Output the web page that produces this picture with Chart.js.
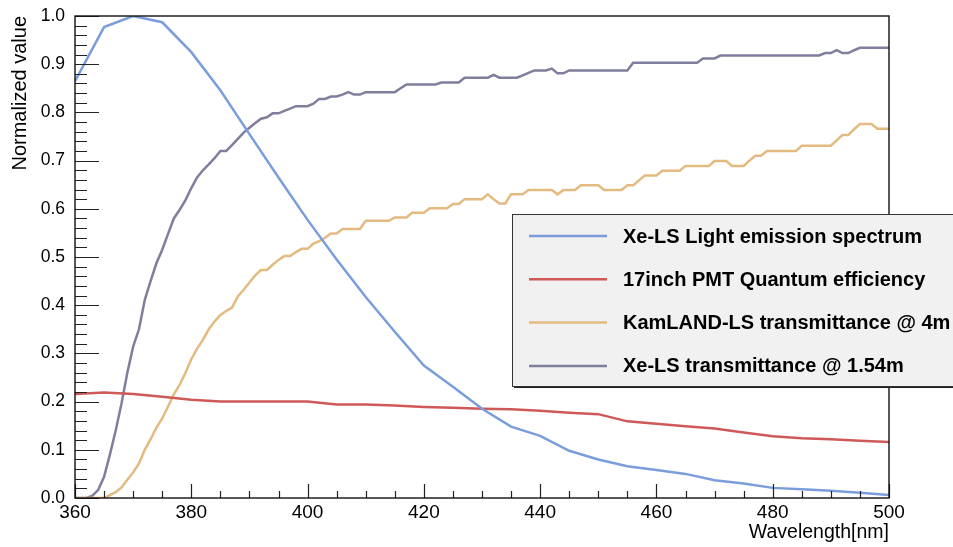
<!DOCTYPE html>
<html>
<head>
<meta charset="utf-8">
<script src="https://cdn.jsdelivr.net/npm/chart.js@4.4.1/dist/chart.umd.min.js"></script>
<style>
  html, body { margin: 0; padding: 0; background: #fff; }
</style>
</head>
<body>
<canvas id="spectra" width="953" height="547"></canvas>
<script>
// wavelength grid (nm) for the emission spectrum and PMT QE
const wl5 = [360, 365, 370, 375, 380, 385, 390, 395, 400, 405, 410, 415, 420, 425, 430,
             435, 440, 445, 450, 455, 460, 465, 470, 475, 480, 485, 490, 495, 500];
const emission = [0.865, 0.977, 1.0, 0.987, 0.925, 0.846, 0.755, 0.665, 0.577, 0.495, 0.417, 0.345, 0.275, 0.231, 0.185,
                  0.148, 0.129, 0.098, 0.080, 0.066, 0.058, 0.050, 0.037, 0.030, 0.021, 0.018, 0.015, 0.011, 0.006];
const pmtQE = [0.216, 0.219, 0.216, 0.210, 0.204, 0.200, 0.200, 0.200, 0.200, 0.194, 0.194, 0.192, 0.189, 0.187, 0.185,
               0.184, 0.181, 0.177, 0.174, 0.159, 0.154, 0.149, 0.144, 0.136, 0.128, 0.124, 0.122, 0.119, 0.116];

// KamLAND-LS transmittance @ 4m
const kamlandWl = [360, 365, 366, 367, 368, 369, 370, 371, 372, 373, 374, 375, 376, 377, 378, 379, 380, 381, 382, 383,
                   384, 385, 386, 387, 388, 389, 390, 391, 392, 393, 394, 395, 396, 397, 398, 399, 400, 401, 402, 403,
                   404, 405, 406, 409, 410, 414, 415, 417, 418, 420, 421, 424, 425, 426, 427, 430, 431, 432, 433, 434,
                   435, 437, 438, 442, 443, 444, 446, 447, 450, 451, 454, 455, 456, 457, 458, 460, 461, 464, 465, 469,
                   470, 472, 473, 475, 476, 477, 478, 479, 484, 485, 490, 491, 492, 493, 494, 495, 497, 498, 500];
const kamlandT = [0.0, 0.0, 0.006, 0.012, 0.022, 0.038, 0.053, 0.072, 0.100, 0.122, 0.146, 0.165, 0.190, 0.215, 0.235, 0.260, 0.288, 0.310, 0.328, 0.350,
                  0.366, 0.380, 0.388, 0.395, 0.418, 0.432, 0.447, 0.462, 0.473, 0.473, 0.484, 0.494, 0.502, 0.502, 0.510, 0.517, 0.517, 0.528, 0.533, 0.540,
                  0.549, 0.549, 0.558, 0.558, 0.575, 0.575, 0.582, 0.582, 0.592, 0.592, 0.601, 0.601, 0.610, 0.610, 0.620, 0.620, 0.630, 0.620, 0.611, 0.611,
                  0.630, 0.630, 0.639, 0.639, 0.630, 0.639, 0.639, 0.649, 0.649, 0.639, 0.639, 0.649, 0.649, 0.659, 0.669, 0.669, 0.679, 0.679, 0.689, 0.689,
                  0.699, 0.699, 0.689, 0.689, 0.700, 0.710, 0.710, 0.720, 0.720, 0.731, 0.731, 0.742, 0.753, 0.753, 0.765, 0.776, 0.776, 0.766, 0.766];

// Xe-LS transmittance @ 1.54m
const xelsWl = [360, 362, 363, 364, 365, 366, 367, 368, 369, 370, 371, 372, 373, 374, 375, 376, 377, 378, 379, 380,
                381, 382, 383, 384, 385, 386, 387, 388, 389, 390, 391, 392, 393, 394, 395, 396, 397, 398, 400, 401,
                402, 403, 404, 405, 406, 407, 408, 409, 410, 415, 416, 417, 422, 423, 426, 427, 431, 432, 433, 436,
                437, 438, 439, 441, 442, 443, 444, 445, 455, 456, 467, 468, 470, 471, 488, 489, 490, 491, 492, 493,
                494, 495, 500];
const xelsT = [0.0, 0.0, 0.005, 0.017, 0.044, 0.090, 0.140, 0.196, 0.260, 0.314, 0.350, 0.411, 0.450, 0.487, 0.515, 0.548, 0.580, 0.598, 0.618, 0.643,
               0.665, 0.680, 0.692, 0.705, 0.720, 0.720, 0.732, 0.745, 0.758, 0.768, 0.778, 0.787, 0.790, 0.798, 0.798, 0.803, 0.808, 0.813, 0.813, 0.818,
               0.828, 0.828, 0.833, 0.833, 0.837, 0.842, 0.837, 0.837, 0.842, 0.842, 0.850, 0.858, 0.858, 0.862, 0.862, 0.872, 0.872, 0.878, 0.872, 0.872,
               0.877, 0.882, 0.887, 0.887, 0.891, 0.881, 0.881, 0.887, 0.887, 0.903, 0.903, 0.912, 0.912, 0.918, 0.918, 0.923, 0.923, 0.929, 0.923, 0.923,
               0.929, 0.934, 0.934];

const seriesNames = ['Xe-LS Light emission spectrum', '17inch PMT Quantum efficiency',
                     'KamLAND-LS transmittance @ 4m', 'Xe-LS transmittance @ 1.54m'];
const seriesColors = ['#7b9ddb', '#cf5858', '#e3ba80', '#7f7f9d'];

const FONT = "'Liberation Sans', Arial, Helvetica, sans-serif";

function pairs(xs, ys) {
  return xs.map((x, i) => ({ x: x, y: ys[i] }));
}

// ROOT-style frame with inward major/minor ticks
const frameTicks = {
  id: 'frameTicks',
  afterDatasetsDraw(chart) {
    const { ctx, chartArea: a, scales: { x, y } } = chart;
    ctx.save();
    ctx.strokeStyle = '#222';
    ctx.lineWidth = 1.2;
    ctx.beginPath();
    for (let i = 0; i <= 50; i++) {
      const py = Math.round(y.getPixelForValue(i * 0.02)) + 0.5;
      const len = i % 5 === 0 ? 24 : 12;
      ctx.moveTo(a.left, py);
      ctx.lineTo(a.left + len, py);
    }
    for (let i = 0; i <= 28; i++) {
      const px = Math.round(x.getPixelForValue(360 + i * 5)) + 0.5;
      const len = i % 4 === 0 ? 14 : 7;
      ctx.moveTo(px, a.bottom);
      ctx.lineTo(px, a.bottom - len);
    }
    ctx.stroke();
    ctx.strokeStyle = '#111';
    ctx.lineWidth = 1.4;
    ctx.strokeRect(a.left, a.top, a.right - a.left, a.bottom - a.top);
    ctx.restore();
  }
};

// legend box in the ROOT TLegend look
const legendBox = {
  id: 'legendBox',
  afterDraw(chart) {
    const ctx = chart.ctx;
    const x0 = 512, y0 = 214, w = 446, h = 172;
    ctx.save();
    ctx.fillStyle = '#222';
    ctx.fillRect(x0 + 2, y0 + 2, w, h);
    ctx.fillStyle = '#f1f1f1';
    ctx.fillRect(x0, y0, w, h);
    ctx.strokeStyle = '#333';
    ctx.lineWidth = 1;
    ctx.strokeRect(x0 + 0.5, y0 + 0.5, w, h);
    ctx.font = 'bold 20px ' + FONT;
    ctx.textBaseline = 'middle';
    ctx.fillStyle = '#000';
    chart.data.datasets.forEach((ds, i) => {
      const ry = 236 + i * 43.3;
      ctx.strokeStyle = ds.borderColor;
      ctx.lineWidth = 2.5;
      ctx.beginPath();
      ctx.moveTo(529, ry);
      ctx.lineTo(607, ry);
      ctx.stroke();
      ctx.fillText(ds.label, 623, ry + 1);
    });
    ctx.restore();
  }
};

const lineStyle = { borderWidth: 2.5, pointRadius: 0, tension: 0, fill: false };

new Chart(document.getElementById('spectra'), {
  type: 'line',
  data: {
    datasets: [
      { label: seriesNames[0], data: pairs(wl5, emission), borderColor: seriesColors[0], ...lineStyle },
      { label: seriesNames[1], data: pairs(wl5, pmtQE), borderColor: seriesColors[1], ...lineStyle },
      { label: seriesNames[2], data: pairs(kamlandWl, kamlandT), borderColor: seriesColors[2], ...lineStyle },
      { label: seriesNames[3], data: pairs(xelsWl, xelsT), borderColor: seriesColors[3], ...lineStyle }
    ]
  },
  options: {
    responsive: false,
    animation: false,
    devicePixelRatio: 1,
    layout: { padding: { left: 0, right: 64, top: 16, bottom: 0 } },
    plugins: {
      legend: { display: false },
      tooltip: { enabled: false }
    },
    scales: {
      x: {
        type: 'linear',
        min: 360,
        max: 500,
        grid: { display: false, drawTicks: false },
        border: { display: false },
        ticks: { stepSize: 20, color: '#000', padding: 3, maxRotation: 0,
                  font: { family: FONT, size: 19 } },
        title: { display: true, text: 'Wavelength[nm]', align: 'end', color: '#000',
                 padding: 3, font: { family: FONT, size: 19.5 } },
        afterFit(scale) {
          scale.height = 49;
          scale.paddingLeft = 0;
          scale.paddingRight = 0;
        }
      },
      y: {
        min: 0,
        max: 1,
        grid: { display: false, drawTicks: false },
        border: { display: false },
        ticks: { stepSize: 0.1, color: '#000', padding: 10,
                  font: { family: FONT, size: 17.5 },
                  callback: v => v.toFixed(1) },
        title: { display: true, text: 'Normalized value', align: 'end', color: '#000',
                 padding: 8, font: { family: FONT, size: 20 } },
        afterFit(scale) {
          scale.width = 75;
          scale.paddingTop = 0;
          scale.paddingBottom = 0;
        }
      }
    }
  },
  plugins: [frameTicks, legendBox]
});
</script>
</body>
</html>
